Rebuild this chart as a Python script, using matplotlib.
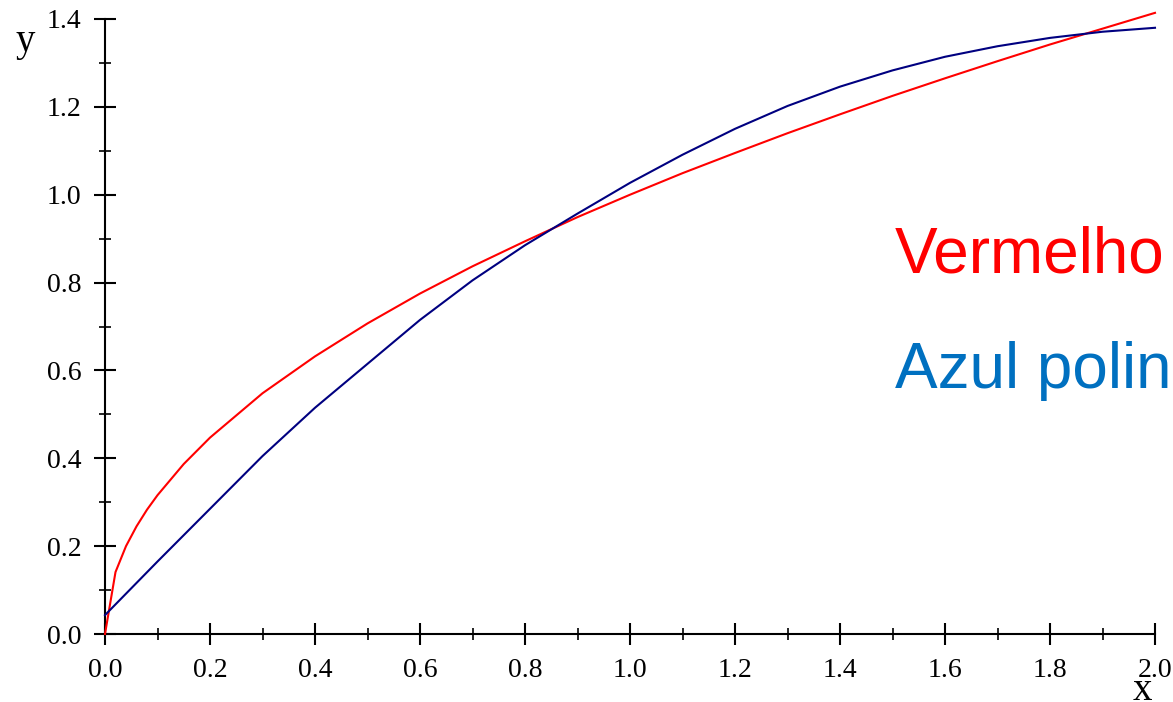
import numpy as np
import matplotlib.pyplot as plt
from matplotlib.ticker import MultipleLocator, FormatStrFormatter

# red curve
x_red = [0, 0.02, 0.04, 0.06, 0.08, 0.1, 0.15, 0.2, 0.3, 0.4, 0.5, 0.6, 0.7, 0.8,
         0.9, 1.0, 1.1, 1.2, 1.3, 1.4, 1.5, 1.6, 1.7, 1.8, 1.9, 2.0]
y_red = [0, 0.141, 0.2, 0.245, 0.283, 0.316, 0.387, 0.447, 0.548, 0.632, 0.707, 0.775,
         0.837, 0.894, 0.949, 1.0, 1.049, 1.095, 1.14, 1.183, 1.225, 1.265, 1.304,
         1.342, 1.378, 1.414]

# blue (polynomial) curve
x_blue = [0, 0.1, 0.2, 0.3, 0.4, 0.5, 0.6, 0.7, 0.8, 0.9, 1.0, 1.1, 1.2, 1.3, 1.4,
          1.5, 1.6, 1.7, 1.8, 1.9, 2.0]
y_blue = [0.043, 0.165, 0.285, 0.405, 0.515, 0.615, 0.715, 0.805, 0.885, 0.957, 1.027,
          1.091, 1.15, 1.202, 1.246, 1.283, 1.314, 1.338, 1.357, 1.371, 1.38]

labels = ["Vermelho", "Azul polin"]
label_colors = ["#ff0000", "#0070c0"]

fig = plt.figure(figsize=(11.73, 7.02), dpi=100)
ax = fig.add_axes([105 / 1173, 68 / 702, 1050 / 1173, 615 / 702])

ax.plot(x_red, y_red, color="#ff0000", lw=1.5, clip_on=False, zorder=3)
ax.plot(x_blue, y_blue, color="#000080", lw=1.5, clip_on=False, zorder=3)

ax.set_xlim(0, 2.0)
ax.set_ylim(0, 1.4)
for s in ["top", "right"]:
    ax.spines[s].set_visible(False)
for s in ["left", "bottom"]:
    ax.spines[s].set_linewidth(1.5)

ax.xaxis.set_major_locator(MultipleLocator(0.2))
ax.xaxis.set_minor_locator(MultipleLocator(0.1))
ax.yaxis.set_major_locator(MultipleLocator(0.2))
ax.yaxis.set_minor_locator(MultipleLocator(0.1))
ax.xaxis.set_major_formatter(FormatStrFormatter("%.1f"))
ax.yaxis.set_major_formatter(FormatStrFormatter("%.1f"))
ax.tick_params(which="major", direction="inout", length=16, width=1.5, pad=9,
               labelsize=20, labelfontfamily="Liberation Serif")
ax.tick_params(which="minor", direction="inout", length=8, width=1.2)

fig.text(25 / 1173, 1 - 42 / 702, "y", fontsize=28, family="Liberation Serif",
         ha="center", va="center")
fig.text(1142 / 1173, 1 - 690 / 702, "x", fontsize=28, family="Liberation Serif",
         ha="center", va="center")

fig.text(895 / 1173, 1 - 273 / 702, labels[0], color=label_colors[0], fontsize=46,
         family="Liberation Sans", ha="left", va="baseline")
fig.text(895 / 1173, 1 - 388 / 702, labels[1], color=label_colors[1], fontsize=46,
         family="Liberation Sans", ha="left", va="baseline")

fig.savefig("out.png", dpi=100)
